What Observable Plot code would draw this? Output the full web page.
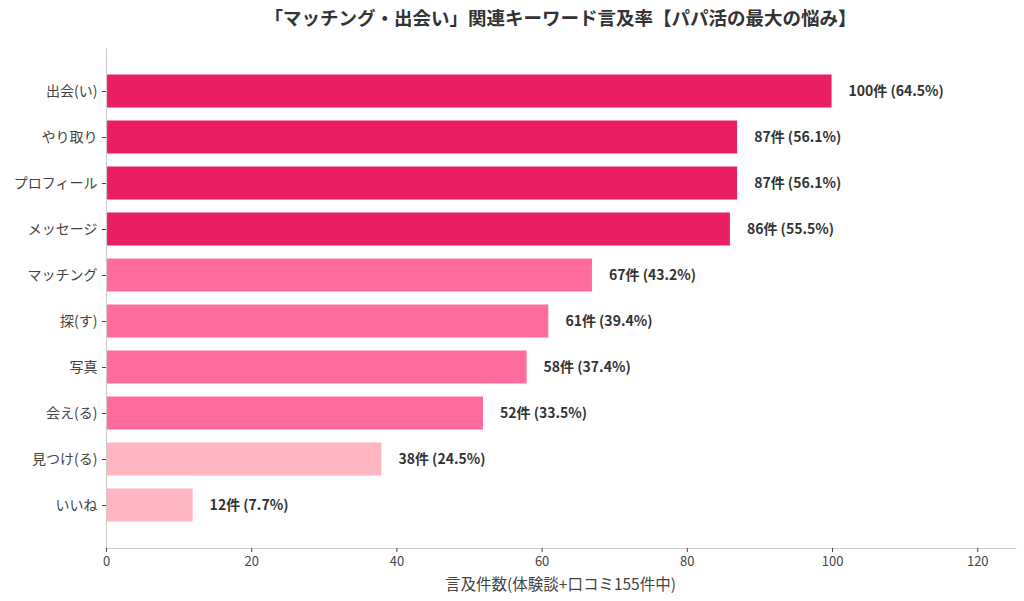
<!DOCTYPE html>
<html>
<head>
<meta charset="utf-8">
<script src="https://cdn.jsdelivr.net/npm/d3@7"></script>
<script src="https://cdn.jsdelivr.net/npm/@observablehq/plot@0.6"></script>
<style>
  body { margin: 0; background: #fff; font-family: "Noto Sans CJK JP", "Noto Sans", sans-serif; }
  #wrap { width: 1024px; height: 601px; position: relative; }
  #title { position: absolute; left: 106px; width: 909px; top: 0; height: 34px; line-height: 34px;
           text-align: center; font-weight: bold; font-size: 18.5px; color: #333; }
  #xlabel { position: absolute; left: 106px; width: 909px; top: 572px; height: 22px; line-height: 22px;
           text-align: center; font-size: 15.5px; color: #444; }
  #chart { position: absolute; left: 0; top: 36px; }
</style>
</head>
<body>
<div id="wrap">
  <div id="title">「マッチング・出会い」関連キーワード言及率【パパ活の最大の悩み】</div>
  <div id="chart"></div>
  <div id="xlabel"></div>
</div>
<script>
const categories = ["出会(い)","やり取り","プロフィール","メッセージ","マッチング","探(す)","写真","会え(る)","見つけ(る)","いいね"];
const counts = [100, 87, 87, 86, 67, 61, 58, 52, 38, 12];
const percents = [64.5, 56.1, 56.1, 55.5, 43.2, 39.4, 37.4, 33.5, 24.5, 7.7];
const barColors = ["#E91E63","#E91E63","#E91E63","#E91E63","#FF6B9D","#FF6B9D","#FF6B9D","#FF6B9D","#FFB6C1","#FFB6C1"];
const xTicks = [0, 20, 40, 60, 80, 100, 120];
const xLabel = "言及件数(体験談+口コミ155件中)";

document.getElementById("xlabel").textContent = xLabel;

const data = categories.map((c, i) => ({cat: c, count: counts[i], pct: percents[i], color: barColors[i]}));

const chart = Plot.plot({
  width: 1024,
  height: 565,
  marginLeft: 106,
  marginRight: 9,
  marginTop: 12,
  marginBottom: 53,
  style: {fontFamily: "'Noto Sans CJK JP', 'Noto Sans', sans-serif", fontSize: "13px", color: "#444", background: "#fff"},
  x: {domain: [0, 125.2]},
  y: {domain: categories, paddingInner: 0.262, paddingOuter: 0.554},
  marks: [
    Plot.barX(data, {x: "count", y: "cat", fill: "color", stroke: "#fff", strokeWidth: 1}),
    Plot.text(data, {x: "count", y: "cat", text: d => `${d.count}件 (${d.pct}%)`, dx: 16, textAnchor: "start",
      fontWeight: "bold", fontSize: 14, fill: "#333"}),
    Plot.ruleX([0], {stroke: "#ccc", strokeWidth: 1.2}),
    Plot.frame({anchor: "bottom", stroke: "#ccc", strokeWidth: 1.2}),
    Plot.axisX({ticks: xTicks, tickSize: 4, tickPadding: 4, fontSize: 13, label: null, tickFormat: d => d}),
    Plot.axisY({tickSize: 4, tickPadding: 5, fontSize: 14, label: null})
  ]
});
document.getElementById("chart").appendChild(chart);
</script>
</body>
</html>
